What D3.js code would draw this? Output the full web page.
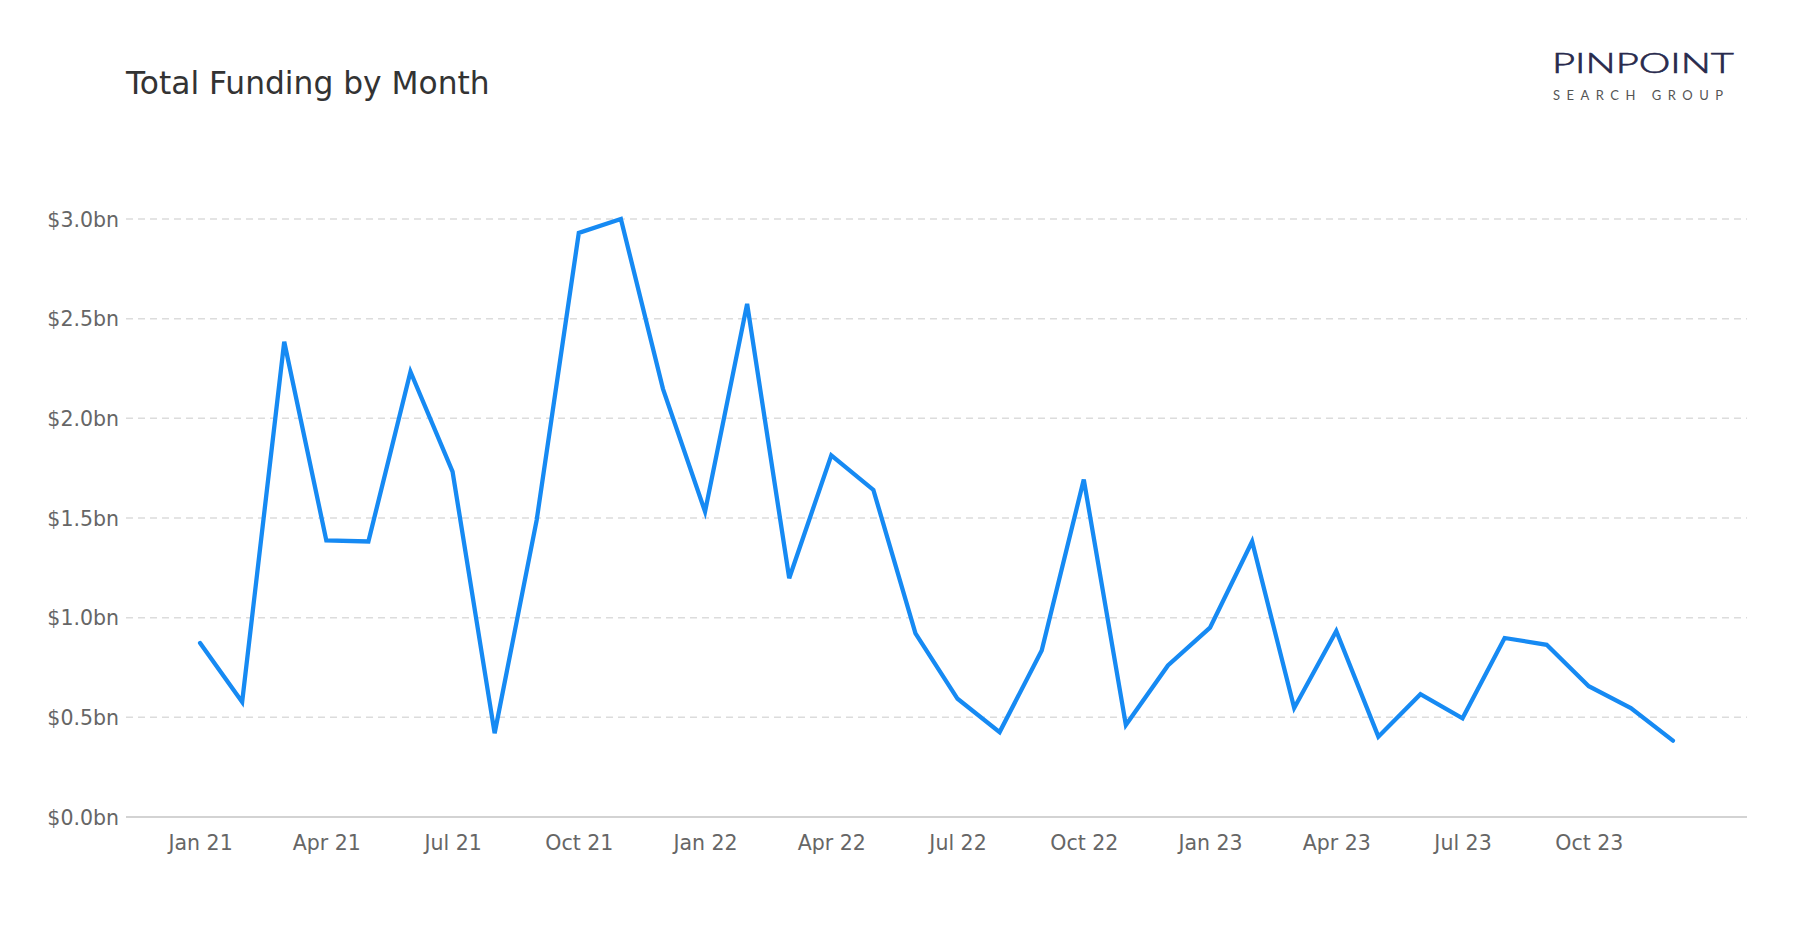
<!DOCTYPE html>
<html>
<head>
<meta charset="utf-8">
<script src="https://cdn.jsdelivr.net/npm/d3@7"></script>
<style>
  html, body { margin: 0; padding: 0; background: #fff; }
  svg { display: block; }
</style>
</head>
<body>
<svg id="chart" width="1800" height="930"></svg>
<script>
const months = ["Jan 21","Feb 21","Mar 21","Apr 21","May 21","Jun 21","Jul 21","Aug 21","Sep 21","Oct 21","Nov 21","Dec 21",
                "Jan 22","Feb 22","Mar 22","Apr 22","May 22","Jun 22","Jul 22","Aug 22","Sep 22","Oct 22","Nov 22","Dec 22",
                "Jan 23","Feb 23","Mar 23","Apr 23","May 23","Jun 23","Jul 23","Aug 23","Sep 23","Oct 23","Nov 23","Dec 23"];
const funding = [0.873, 0.577, 2.384, 1.388, 1.382, 2.234, 1.733, 0.420, 1.491, 2.930, 3.000, 2.148,
                 1.532, 2.574, 1.198, 1.814, 1.641, 0.921, 0.593, 0.426, 0.835, 1.693, 0.461, 0.760,
                 0.950, 1.382, 0.547, 0.933, 0.403, 0.616, 0.495, 0.898, 0.864, 0.656, 0.547, 0.383];
const xTickLabels = ["Jan 21","Apr 21","Jul 21","Oct 21","Jan 22","Apr 22","Jul 22","Oct 22","Jan 23","Apr 23","Jul 23","Oct 23"];
const yTicks = [0, 0.5, 1.0, 1.5, 2.0, 2.5, 3.0];

(function () {
const svg = d3.select("#chart");
const mLeft = 126, mRight = 1747, mTop = 219, mBottom = 817;

const x = d3.scalePoint().domain(months).range([mLeft, mRight]).padding(1.76);
const y = d3.scaleLinear().domain([0, 3]).range([mBottom, mTop]);

// grid lines
svg.append("g").selectAll("line").data(yTicks.filter(d => d > 0)).join("line")
  .attr("x1", mLeft).attr("x2", mRight)
  .attr("y1", d => y(d)).attr("y2", d => y(d))
  .attr("stroke", "#dcdcdc").attr("stroke-width", 1.5)
  .attr("stroke-dasharray", "7,5");

// y axis labels
const yAxis = d3.axisLeft(y).tickValues(yTicks).tickSize(0).tickPadding(0)
  .tickFormat(d => "$" + d3.format(".1f")(d) + "bn");
const gy = svg.append("g").attr("transform", `translate(${mLeft - 7},0)`).call(yAxis);
gy.select(".domain").remove();
gy.selectAll("text").attr("font-family", "DejaVu Sans").attr("font-size", 20.5).attr("fill", "#666").attr("dy", "0.35em");

// x axis
const xAxis = d3.axisBottom(x).tickValues(xTickLabels).tickSize(0).tickPadding(0);
const gx = svg.append("g").attr("transform", `translate(0,${mBottom})`).call(xAxis);
gx.select(".domain").remove();
gx.selectAll("text").attr("font-family", "DejaVu Sans").attr("font-size", 20.5).attr("fill", "#666").attr("y", 18).attr("dy", "0.71em");
svg.append("line").attr("x1", mLeft).attr("x2", mRight).attr("y1", mBottom).attr("y2", mBottom)
  .attr("stroke", "#c4c4c4").attr("stroke-width", 1.5);

// line
const line = d3.line().x((d, i) => x(months[i])).y(d => y(d));
svg.append("path").datum(funding)
  .attr("d", line)
  .attr("fill", "none")
  .attr("stroke", "#168af3")
  .attr("stroke-width", 4.3)
  .attr("stroke-linejoin", "miter")
  .attr("stroke-linecap", "round");

// title
svg.append("text").attr("x", 126).attr("y", 94)
  .attr("font-family", "DejaVu Sans").attr("font-size", 31.3).attr("fill", "#333")
  .text("Total Funding by Month");

// logo
svg.append("text").attr("x", 1552).attr("y", 73)
  .attr("font-family", "Lato").attr("font-weight", 300).attr("font-size", 27)
  .attr("textLength", 182).attr("lengthAdjust", "spacingAndGlyphs").attr("fill", "#282a4d")
  .attr("stroke", "#282a4d").attr("stroke-width", 0.6)
  .text("PINPOINT");
svg.append("text").attr("x", 1553).attr("y", 100)
  .attr("font-family", "Lato").attr("font-weight", 400).attr("font-size", 13)
  .attr("textLength", 170).attr("lengthAdjust", "spacing").attr("fill", "#555")
  .text("SEARCH GROUP");
})();
</script>
</body>
</html>
